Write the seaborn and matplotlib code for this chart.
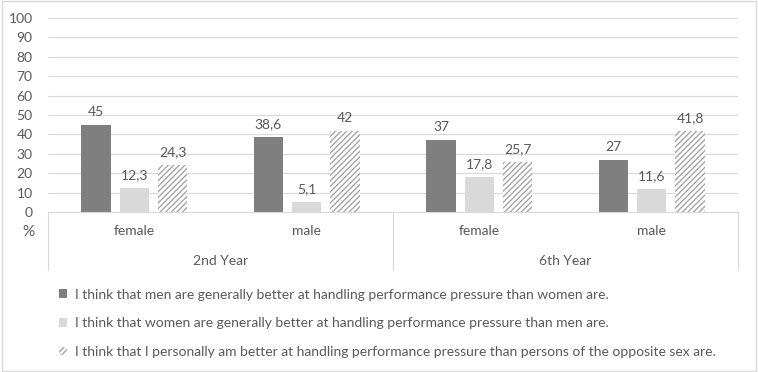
import matplotlib
matplotlib.use("Agg")
import pandas as pd
import matplotlib.pyplot as plt
import seaborn as sns
from matplotlib.patches import Patch, Rectangle
from matplotlib.transforms import blended_transform_factory

# data
years = ["2nd Year", "2nd Year", "6th Year", "6th Year"]
sexes = ["female", "male", "female", "male"]
statements = [
    "I think that men are generally better at handling performance pressure than women are.",
    "I think that women are generally better at handling performance pressure than men are.",
    "I think that I personally am better at handling performance pressure than persons of the opposite sex are.",
]
men_better = [45, 38.6, 37, 27]
women_better = [12.3, 5.1, 17.8, 11.6]
self_better = [24.3, 42, 25.7, 41.8]
yticks = list(range(0, 101, 10))

groups = [y + "|" + s for y, s in zip(years, sexes)]
rows = []
for stmt, vals in zip(statements, [men_better, women_better, self_better]):
    for g, v in zip(groups, vals):
        rows.append({"group": g, "statement": stmt, "value": v})
df = pd.DataFrame(rows)

sns.set_style("white")
plt.rcParams["font.family"] = ["Lato", "DejaVu Sans"]
plt.rcParams["hatch.linewidth"] = 1.0
txt = "#595959"
grid = "#d9d9d9"
colors = ["#7f7f7f", "#d9d9d9", "white"]
fs = 10

fig = plt.figure(figsize=(7.58, 3.72), dpi=100)
ax = fig.add_axes([48 / 758, 1 - 212 / 372, 690 / 758, 194 / 372])

sns.barplot(data=df, x="group", y="value", hue="statement", hue_order=statements,
            order=groups, palette=colors, width=0.666, gap=0.23, ax=ax,
            legend=False, linewidth=0, saturation=1)

for bar in ax.containers[2]:
    bar.set_hatch("//////")
    bar.set_edgecolor("#a6a6a6")
    bar.set_linewidth(0)

for cont in ax.containers:
    labels = [("%g" % b.get_height()).replace(".", ",") for b in cont]
    ax.bar_label(cont, labels=labels, padding=5, fontsize=fs, color=txt)

ax.set_ylim(0, 100)
ax.set_xlim(-0.5, len(groups) - 0.5)
ax.set_yticks(yticks)
ax.set_yticklabels([str(t) for t in yticks], fontsize=fs, color=txt)
ax.tick_params(axis="y", length=0, pad=11)
ax.set_xticks([])
ax.set_xlabel("")
ax.set_ylabel("")
ax.yaxis.grid(True, color=grid, linewidth=0.8)
ax.set_axisbelow(True)
for side in ["top", "right", "left"]:
    ax.spines[side].set_visible(False)
ax.spines["bottom"].set_color(grid)
ax.spines["bottom"].set_linewidth(0.8)

# multi-level category axis
tr = blended_transform_factory(ax.transData, ax.transAxes)
for i, s in enumerate(sexes):
    ax.text(i, -0.098, s, transform=tr, ha="center", va="center", fontsize=fs, color=txt)
uniq_years = list(dict.fromkeys(years))
for j, y in enumerate(uniq_years):
    idx = [i for i, yy in enumerate(years) if yy == y]
    ax.text((idx[0] + idx[-1]) / 2, -0.253, y, transform=tr, ha="center", va="center",
            fontsize=fs, color=txt)
    for edge in [idx[0] - 0.5, idx[-1] + 0.5]:
        ax.plot([edge, edge], [0, -0.30], transform=tr, color=grid, lw=0.8, clip_on=False)

fig.text(28 / 758, 1 - 232 / 372, "%", ha="center", va="center", fontsize=11, color=txt)

handles = [
    Patch(facecolor=colors[0], edgecolor="none"),
    Patch(facecolor=colors[1], edgecolor="none"),
    Patch(facecolor="white", edgecolor="#a6a6a6", hatch="//////", linewidth=0),
]
fig.legend(handles, statements, loc="upper left", bbox_to_anchor=(53 / 758, 1 - 283 / 372),
           frameon=False, fontsize=fs, labelcolor=txt, handlelength=0.6, handleheight=0.6,
           handletextpad=0.55, labelspacing=1.2, borderaxespad=0)

fig.patches.append(Rectangle((0.002, 0.003), 0.995, 0.993, transform=fig.transFigure,
                             facecolor="none", edgecolor=grid, linewidth=1))

fig.savefig("out.png", dpi=100)
